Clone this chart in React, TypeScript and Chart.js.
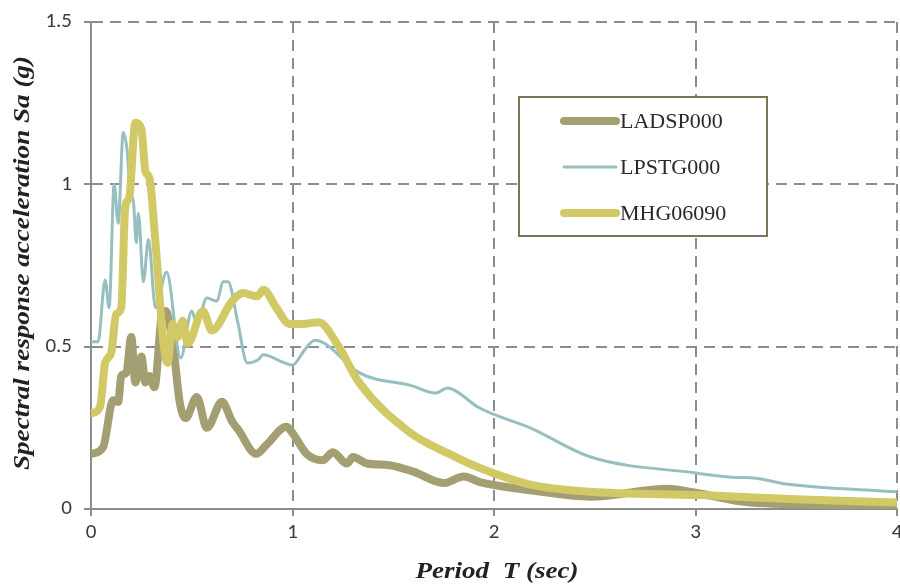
import { useEffect, useRef } from "react";
import { Chart, registerables } from "chart.js";

Chart.register(...registerables);

// ---- data (period T in sec, spectral acceleration Sa in g) ----
const ladspT = [0.005, 0.06, 0.11, 0.135, 0.15, 0.175, 0.2, 0.22, 0.25, 0.27, 0.29, 0.315, 0.35, 0.37, 0.41, 0.44, 0.47, 0.525, 0.575, 0.65, 0.7, 0.73, 0.82, 0.87, 0.97, 1.0, 1.07, 1.15, 1.2, 1.27, 1.3, 1.37, 1.48, 1.6, 1.75, 1.85, 1.93, 2.18, 2.48, 2.86, 3.0, 3.27, 4.0];
const ladspSa = [0.17, 0.19, 0.335, 0.33, 0.41, 0.42, 0.53, 0.39, 0.47, 0.39, 0.41, 0.375, 0.59, 0.61, 0.49, 0.33, 0.28, 0.345, 0.25, 0.33, 0.27, 0.245, 0.17, 0.197, 0.253, 0.234, 0.17, 0.15, 0.175, 0.14, 0.16, 0.14, 0.135, 0.115, 0.08, 0.1, 0.083, 0.058, 0.038, 0.062, 0.05, 0.02, 0.01];

const lpstgT = [0.0, 0.035, 0.07, 0.09, 0.115, 0.135, 0.16, 0.18, 0.195, 0.21, 0.225, 0.235, 0.26, 0.285, 0.32, 0.375, 0.445, 0.5, 0.525, 0.575, 0.625, 0.655, 0.68, 0.73, 0.775, 0.83, 0.855, 0.96, 1.0, 1.06, 1.11, 1.16, 1.33, 1.59, 1.71, 1.77, 1.82, 1.92, 2.18, 2.48, 3.0, 3.18, 3.3, 3.45, 4.0];
const lpstgSa = [0.515, 0.515, 0.705, 0.62, 1.0, 0.88, 1.16, 1.1, 0.97, 0.95, 0.82, 0.91, 0.7, 0.83, 0.62, 0.73, 0.465, 0.61, 0.57, 0.65, 0.64, 0.7, 0.7, 0.57, 0.45, 0.46, 0.475, 0.45, 0.443, 0.49, 0.52, 0.51, 0.42, 0.38, 0.357, 0.373, 0.36, 0.314, 0.25, 0.16, 0.111, 0.098, 0.095, 0.077, 0.053];

const mhgT = [0.005, 0.045, 0.07, 0.1, 0.125, 0.15, 0.17, 0.19, 0.22, 0.25, 0.27, 0.29, 0.32, 0.36, 0.38, 0.405, 0.43, 0.455, 0.48, 0.555, 0.6, 0.7, 0.755, 0.825, 0.855, 0.92, 0.985, 1.05, 1.13, 1.22, 1.33, 1.58, 1.77, 1.93, 2.18, 2.48, 3.02, 3.5, 4.0];
const mhgSa = [0.295, 0.315, 0.45, 0.48, 0.6, 0.62, 0.93, 0.96, 1.19, 1.17, 1.04, 1.02, 0.82, 0.51, 0.45, 0.57, 0.53, 0.58, 0.51, 0.61, 0.55, 0.64, 0.665, 0.655, 0.675, 0.62, 0.57, 0.57, 0.575, 0.51, 0.39, 0.237, 0.172, 0.126, 0.075, 0.053, 0.043, 0.03, 0.02];

const seriesNames = ["LADSP000", "LPSTG000", "MHG06090"];
const xTicks = [0, 1, 2, 3, 4];
const yTicks = [0, 0.5, 1, 1.5];
const xTitle = "Period  T (sec)";
const yTitle = "Spectral response acceleration Sa (g)";

const COLORS = ["#a49f73", "#97bfbf", "#d1c965"];
const WIDTHS = [8, 3, 8];

const W = 900;
const H = 586;

const toPts = (xs: number[], ys: number[]) => xs.map((x, i) => ({ x, y: ys[i] }));

// draw text stretched along its baseline so it spans a target length
function drawStretched(ctx: CanvasRenderingContext2D, text: string, target: number) {
  const w = ctx.measureText(text).width;
  const k = w > 0 ? target / w : 1;
  ctx.save();
  ctx.scale(k, 1);
  ctx.fillText(text, 0, 0);
  ctx.restore();
}

export default function App() {
  const ref = useRef<HTMLCanvasElement>(null);

  useEffect(() => {
    const canvas = ref.current;
    if (!canvas) return;

    const overlay = {
      id: "overlay",
      afterDraw(chart: any) {
        const ctx = chart.ctx as CanvasRenderingContext2D;
        ctx.save();
        // axis titles
        ctx.fillStyle = "#222";
        ctx.font = 'bold italic 23px "Liberation Serif", "Times New Roman", serif';
        ctx.textAlign = "center";
        ctx.textBaseline = "middle";
        ctx.save();
        ctx.translate(497, 572);
        drawStretched(ctx, xTitle, 163);
        ctx.restore();
        ctx.save();
        ctx.translate(23, 263);
        ctx.rotate(-Math.PI / 2);
        drawStretched(ctx, yTitle, 414);
        ctx.restore();

        // legend box
        const bx = 519, by = 97, bw = 248, bh = 139;
        ctx.fillStyle = "#ffffff";
        ctx.fillRect(bx, by, bw, bh);
        ctx.strokeStyle = "#7d7358";
        ctx.lineWidth = 2;
        ctx.strokeRect(bx, by, bw, bh);
        const rows = [121, 167, 213];
        ctx.font = '22px "Liberation Serif", "Times New Roman", serif';
        ctx.textAlign = "left";
        seriesNames.forEach((name, i) => {
          ctx.strokeStyle = COLORS[i];
          ctx.lineWidth = WIDTHS[i];
          ctx.lineCap = "round";
          ctx.beginPath();
          ctx.moveTo(564, rows[i]);
          ctx.lineTo(616, rows[i]);
          ctx.stroke();
          ctx.fillStyle = "#2a2a2a";
          ctx.fillText(name, 620, rows[i] + 1);
        });
        ctx.restore();
      },
    };

    const tickFont = { family: '"Liberation Sans Narrow", Carlito, Roboto, sans-serif', size: 21 };

    const chart = new Chart(canvas, {
      type: "line",
      data: {
        datasets: [
          { label: seriesNames[0], data: toPts(ladspT, ladspSa), borderColor: COLORS[0], borderWidth: WIDTHS[0], order: 3 },
          { label: seriesNames[1], data: toPts(lpstgT, lpstgSa), borderColor: COLORS[1], borderWidth: WIDTHS[1], order: 2 },
          { label: seriesNames[2], data: toPts(mhgT, mhgSa), borderColor: COLORS[2], borderWidth: WIDTHS[2], order: 1 },
        ].map((d) => ({
          ...d,
          pointRadius: 0,
          fill: false,
          cubicInterpolationMode: "monotone" as const,
          borderCapStyle: "round" as const,
          borderJoinStyle: "round" as const,
        })),
      },
      options: {
        responsive: false,
        animation: false,
        layout: { padding: { top: 22, right: 3, left: 0, bottom: 0 } },
        plugins: { legend: { display: false }, tooltip: { enabled: false } },
        scales: {
          x: {
            type: "linear",
            min: 0,
            max: 4,
            afterBuildTicks: (s: any) => {
              s.ticks = xTicks.map((v) => ({ value: v }));
            },
            afterFit: (s: any) => {
              s.height = 77;
              s.paddingLeft = 0;
              s.paddingRight = 0;
            },
            grid: { color: "#8c8c8c", lineWidth: 2, tickLength: 7, drawTicks: true },
            border: { display: true, color: "#8c8c8c", width: 2, dash: [11, 7] },
            ticks: { color: "#3a3a3a", font: tickFont, padding: 4, maxRotation: 0, callback: (v: any) => String(v) },
          },
          y: {
            type: "linear",
            min: 0,
            max: 1.5,
            afterBuildTicks: (s: any) => {
              s.ticks = yTicks.map((v) => ({ value: v }));
            },
            afterFit: (s: any) => {
              s.width = 91;
              s.paddingTop = 0;
              s.paddingBottom = 0;
            },
            grid: { color: "#8c8c8c", lineWidth: 2, tickLength: 7, drawTicks: true },
            border: { display: true, color: "#8c8c8c", width: 2, dash: [11, 7] },
            ticks: { color: "#3a3a3a", font: tickFont, padding: 12, callback: (v: any) => String(v) },
          },
        },
      },
      plugins: [overlay],
    });

    return () => chart.destroy();
  }, []);

  return (
    <canvas
      ref={ref}
      width={W}
      height={H}
      style={{ position: "fixed", left: 0, top: 0, width: W, height: H, background: "#fff" }}
    />
  );
}
